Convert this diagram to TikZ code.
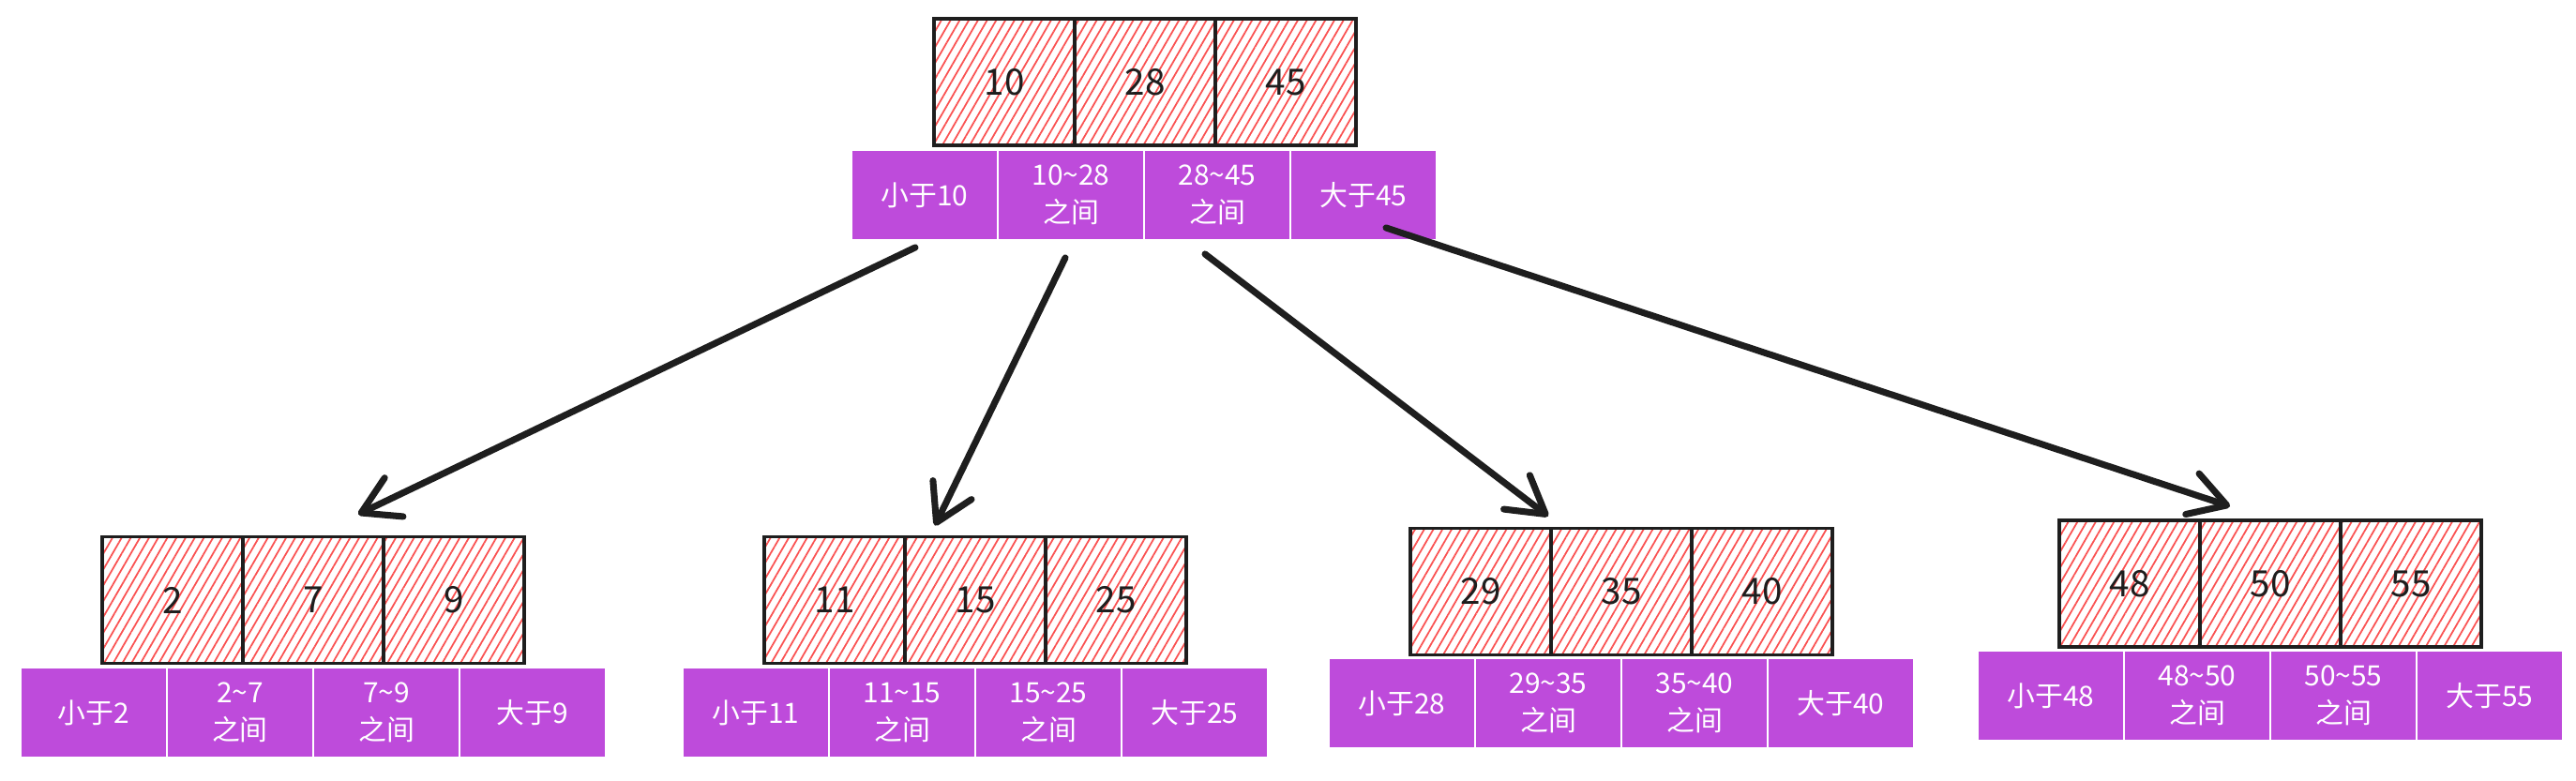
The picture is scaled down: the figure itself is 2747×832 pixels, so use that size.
\documentclass[tikz,border=0pt]{standalone}
\usepackage{fontspec}
\newfontfamily\cjk{Noto Sans CJK SC}
\usepackage{tikz}
\usetikzlibrary{arrows.meta,patterns.meta}
\definecolor{keyred}{HTML}{FA5252}
\definecolor{ptrpurple}{HTML}{BE4BDB}
\definecolor{inkblack}{HTML}{1E1E1E}
\tikzset{
keybox/.style={draw=inkblack,line width=1.1pt,minimum width=1.5cm,minimum height=1.35cm,inner sep=0pt,pattern={Lines[angle=60,distance=2.4pt,line width=0.5pt]},pattern color=keyred,font=\cjk\fontsize{11}{13}\selectfont,text=inkblack},
ptrbox/.style={draw=white,line width=0.8pt,fill=ptrpurple,minimum width=1.56cm,minimum height=0.97cm,inner sep=0pt,align=center,font=\cjk\fontsize{8.5}{11.5}\selectfont,text=white},
ptrarrow/.style={draw=inkblack,line width=2pt,line cap=round,-{Straight Barb[length=11pt,width=13pt,round]}}
}

\begin{document}
\begin{tikzpicture}[x=0.01cm,y=-0.01cm]
\useasboundingbox (0,0) rectangle (2747,832);

%Top node
\node[keybox] (tk1) at (1071,87.5){10}; \node[keybox] (tk2) at (1221,87.5){28}; \node[keybox] (tk3) at (1371,87.5){45};
\node[ptrbox] (tp1) at (986,208){小于10}; \node[ptrbox] (tp2) at (1142,208){10\textasciitilde28\\之间}; \node[ptrbox] (tp3) at (1298,208){28\textasciitilde45\\之间}; \node[ptrbox] (tp4) at (1454,208){大于45};

%First child
\node[keybox] (ak1) at (184,640){2}; \node[keybox] (ak2) at (334,640){7}; \node[keybox] (ak3) at (484,640){9};
\node[ptrbox] (ap1) at (100,760){小于2}; \node[ptrbox] (ap2) at (256,760){2\textasciitilde7\\之间}; \node[ptrbox] (ap3) at (412,760){7\textasciitilde9\\之间}; \node[ptrbox] (ap4) at (568,760){大于9};

%Second child
\node[keybox] (bk1) at (890,640){11}; \node[keybox] (bk2) at (1040,640){15}; \node[keybox] (bk3) at (1190,640){25};
\node[ptrbox] (bp1) at (806,760){小于11}; \node[ptrbox] (bp2) at (962,760){11\textasciitilde15\\之间}; \node[ptrbox] (bp3) at (1118,760){15\textasciitilde25\\之间}; \node[ptrbox] (bp4) at (1274,760){大于25};

%Third child
\node[keybox] (ck1) at (1579,631){29}; \node[keybox] (ck2) at (1729,631){35}; \node[keybox] (ck3) at (1879,631){40};
\node[ptrbox] (cp1) at (1495,750){小于28}; \node[ptrbox] (cp2) at (1651,750){29\textasciitilde35\\之间}; \node[ptrbox] (cp3) at (1807,750){35\textasciitilde40\\之间}; \node[ptrbox] (cp4) at (1963,750){大于40};

%Fourth child
\node[keybox] (dk1) at (2271,622.5){48}; \node[keybox] (dk2) at (2421,622.5){50}; \node[keybox] (dk3) at (2571,622.5){55};
\node[ptrbox] (dp1) at (2187,742){小于48}; \node[ptrbox] (dp2) at (2343,742){48\textasciitilde50\\之间}; \node[ptrbox] (dp3) at (2499,742){50\textasciitilde55\\之间}; \node[ptrbox] (dp4) at (2655,742){大于55};

%Pointers
\draw[ptrarrow] ([shift={(-10,6)}]tp1.south)--([shift={(48,-22)}]ak2.north);
\draw[ptrarrow] ([shift={(-6,17)}]tp2.south)--([shift={(-43,-10)}]bk2.north);
\draw[ptrarrow] ([shift={(-13,13)}]tp3.south)--([shift={(-5,-11)}]ck1.north east);
\draw[ptrarrow] ([shift={(24,-15)}]tp4.south)--([shift={(-43,-13)}]dk2.north);
\end{tikzpicture}
\end{document}
